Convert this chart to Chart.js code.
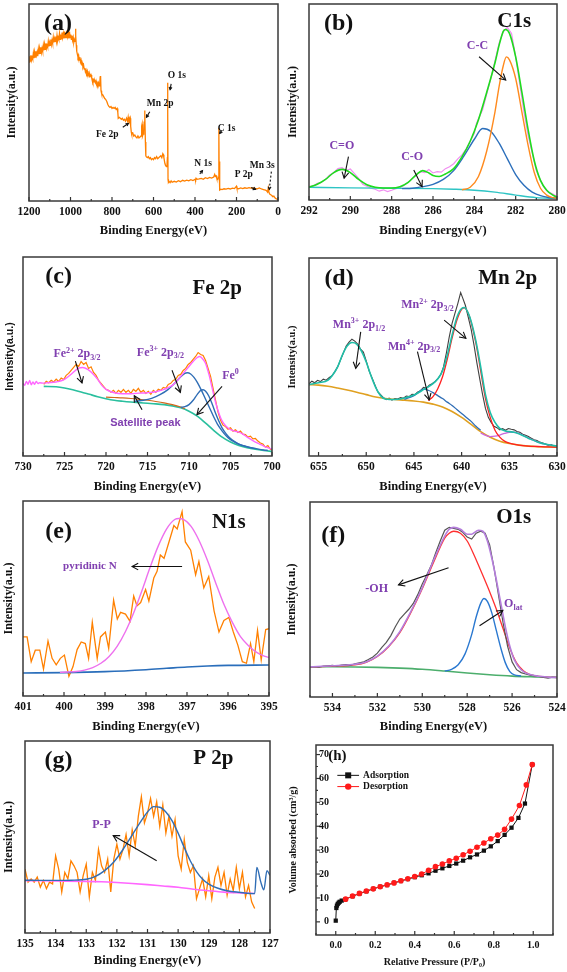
<!DOCTYPE html>
<html>
<head>
<meta charset="utf-8">
<script src="https://cdn.jsdelivr.net/npm/chart.js@4.4.1/dist/chart.umd.min.js"></script>
<style>
  html, body { margin: 0; padding: 0; background: #fff; }
  #fig { position: relative; width: 567px; height: 972px; overflow: hidden; background: #fff; }
  #fig canvas { position: absolute; }
</style>
</head>
<body>
<div id="fig"></div>
<script>
const SERIF = '"Liberation Serif", "Times New Roman", serif';
const SANS = '"Liberation Sans", Arial, sans-serif';
const PURPLE = '#8040b0';

// ---- tick labels ----
const ticksA = [1200, 1000, 800, 600, 400, 200, 0];
const ticksB = [292, 290, 288, 286, 284, 282, 280];
const ticksC = [730, 725, 720, 715, 710, 705, 700];
const ticksD = [655, 650, 645, 640, 635, 630];
const ticksE = [401, 400, 399, 398, 397, 396, 395];
const ticksF = [534, 532, 530, 528, 526, 524];
const ticksG = [135, 134, 133, 132, 131, 130, 129, 128, 127];
const ticksHx = [0, 0.2, 0.4, 0.6, 0.8, 1.0];
const ticksHy = [0, 10, 20, 30, 40, 50, 60, 70];

// ---- (a) survey, [eV, intensity %] ----
const surveyPts = [[1200,70.5],[1197,73.5],[1194,71],[1191,74],[1188,71.5],[1185,73],[1182,72],[1179,75],[1176,72.5],[1173,75.5],[1170,73],[1167,76],[1164,74],[1161,75.5],[1158,73.5],[1155,77],[1152,74.5],[1149,77.5],[1146,75],[1143,78],[1140,75.5],[1137,77.5],[1134,76],[1131,79],[1128,76.5],[1125,79.5],[1122,77],[1119,80],[1116,77.5],[1113,79],[1110,78],[1107,81],[1104,78.5],[1101,80.5],[1098,79],[1095,82],[1092,79.5],[1089,81.5],[1086,80],[1083,83],[1080,80.5],[1077,82.5],[1074,81],[1071,83.5],[1068,81],[1065,84],[1062,81.5],[1059,83],[1056,82],[1053,85],[1050,82],[1047,84.5],[1044,82.5],[1041,85.5],[1038,83],[1035,85],[1032,82.5],[1029,86],[1026,83],[1023,85.5],[1020,83],[1017,86.5],[1014,83.5],[1011,85],[1008,82.5],[1005,86],[1002,83],[999,84.5],[996,82],[993,84],[990,81.5],[987,83],[984,80.5],[981,82],[978,81],[976,85],[975,87.5],[974,84],[972,79],[970,76],[967,74.5],[964,73],[961,74],[958,71.5],[955,73],[952,70.5],[949,71.5],[946,69.5],[943,70],[940,68],[937,69],[934,67],[931,67.5],[928,65.5],[925,66.5],[922,65],[919,66],[916,64],[913,64.5],[910,63],[907,64.5],[904,63.5],[901,64],[898,62.5],[895,62],[892,60.5],[889,61.5],[886,60.5],[883,61],[880,60],[877,61],[874,59.5],[871,60],[868,59],[865,60],[862,58.5],[859,59.5],[857,63],[855,63.5],[853,56],[850,54.5],[845,54],[840,53],[835,52],[830,51.5],[825,50.5],[820,49],[815,48],[810,47.5],[805,48],[800,47],[795,47.5],[790,47],[785,47.5],[780,46.5],[775,47],[772,45],[770,42],[765,42.5],[760,42],[755,41.5],[750,42],[745,41],[740,41.5],[735,40.5],[730,42],[725,40.5],[722,42.5],[720,41],[717,42],[715,41],[712,42],[710,38],[707,35],[705,34],[700,34.5],[695,33],[690,33.5],[685,32.5],[680,32],[675,33],[670,32],[665,32.5],[660,33],[657,38],[655,39],[653,33],[650,34],[647,35],[645,40],[643,46],[641,44],[639,30],[637,23],[635,22.5],[630,22],[625,22.5],[620,21.5],[615,22],[610,21],[605,21.5],[600,21],[595,22],[590,21.5],[585,22.5],[580,21.5],[575,22],[570,22.5],[565,23],[560,22],[555,24],[552,23.5],[550,22],[545,19],[542,18],[538,17.5],[535,18],[533,22],[532,60],[531,45],[530,11],[528,9.5],[525,10],[520,9.3],[515,10.2],[510,9.5],[500,10],[490,9.6],[480,10.3],[470,9.8],[460,10.5],[450,10.1],[440,10.6],[430,10.2],[420,10.8],[410,10.4],[400,11],[397,10.6],[395,11.5],[390,11],[380,11.2],[370,11.5],[360,11],[350,11.8],[340,11.4],[330,12],[320,11.6],[310,12.2],[305,13.5],[302,12.5],[298,12.8],[295,11.5],[290,11],[287,12],[285,37],[284,20],[282,7],[280,5.6],[275,6],[270,5.8],[260,6.2],[250,6],[240,6.4],[230,6.1],[220,6.5],[210,6.3],[200,7.5],[198,6.5],[190,6.2],[180,6.6],[170,6.3],[160,6.7],[150,6.4],[140,6.8],[130,6.5],[120,6.7],[110,6.4],[100,6.2],[90,6.6],[80,6.1],[70,5.8],[60,5.5],[55,5.2],[50,4.5],[47,6.5],[45,5],[40,3.5],[35,3.2],[30,2.8],[25,2.2],[20,2.5],[15,1.6],[10,1.2],[5,1.0],[0,0.8]];

// ---- (b) C1s ----
const c1sRaw = [[292,6.8],[291.8,7.2],[291.6,8.5],[291.4,9],[291.2,10.5],[291,12.8],[290.8,14],[290.6,16],[290.4,16.5],[290.2,15],[290,15.8],[289.8,13.5],[289.6,11],[289.4,8],[289.2,7],[289,6],[288.8,5.5],[288.6,4.5],[288.4,5.2],[288.2,4.3],[288,5],[287.8,5.8],[287.6,6.2],[287.4,7.5],[287.2,9],[287,11],[286.8,13],[286.6,14.5],[286.4,14],[286.2,15.5],[286,13.8],[285.8,14.5],[285.6,14.2],[285.4,16],[285.2,17],[285,18.5],[284.8,21],[284.6,23],[284.4,26],[284.2,30],[284,34],[283.9,39],[283.8,41.5],[283.6,46],[283.4,54],[283.2,62],[283,71],[282.8,80],[282.6,86],[282.4,88],[282.2,85],[282,73],[281.8,59],[281.6,45],[281.4,33],[281.2,24],[281,15],[280.8,10],[280.6,6],[280.4,4],[280.2,3],[280,1.8]];
const c1sEnv = [[292,6.6],[291.6,8],[291.2,10.5],[290.8,14],[290.4,15.6],[290,14],[289.6,10.5],[289.2,7.8],[288.8,6.5],[288.4,6.1],[288,6.1],[287.6,6.8],[287.2,9],[286.8,13],[286.5,15],[286.2,13.8],[286,12.5],[285.7,12],[285.4,13.3],[285,16],[284.6,22],[284.2,30],[283.8,41],[283.4,55],[283,70],[282.8,79],[282.6,86],[282.5,87],[282.3,85],[282,73],[281.7,55],[281.4,36],[281.1,20],[280.8,10],[280.5,5],[280.2,2.5],[280,1.5]];
const c1sBlue = [[287.5,5.8],[287,6],[286.5,6.8],[286,8],[285.5,10.5],[285,15],[284.5,22.5],[284,31],[283.6,36.5],[283.2,35],[282.8,29],[282.4,21],[282,13],[281.6,7.5],[281.2,4],[280.8,2.2],[280.4,1.3],[280,1]];
const c1sOrange = [[284.6,5.2],[284.2,6.5],[283.8,12],[283.4,25],[283,45],[282.8,58],[282.6,68.5],[282.45,73],[282.3,71.5],[282,62],[281.7,45],[281.4,28],[281.1,14],[280.8,6],[280.5,2.5],[280.2,1.2],[280,1]];
const c1sBg = [[292,6.5],[290,6.2],[288,6],[286,5.8],[285,5.5],[284,5],[283,4],[282,2.5],[281,1.2],[280,0.8]];

// ---- (c) Fe 2p ----
const fe2pRaw = [[727.5,36],[727.2,37.5],[726.9,36.8],[726.6,38],[726.3,37.2],[726,38.6],[725.7,37.5],[725.4,39.2],[725.1,38.4],[724.8,40.5],[724.5,41.5],[724.2,43],[723.9,44.5],[723.6,46],[723.3,45],[723,47.5],[722.7,46],[722.4,47],[722.1,44],[721.8,44.8],[721.5,42],[721.2,40.5],[720.9,38],[720.6,36.5],[720.3,35],[720,33.5],[719.7,33],[719.4,32],[719.1,33],[718.8,31.5],[718.5,33],[718.2,32],[717.9,33.5],[717.6,32],[717.3,33],[717,31.5],[716.7,33.5],[716.4,32.5],[716.1,34],[715.8,32],[715.5,33],[715.2,31.5],[714.9,32.5],[714.6,31],[714.3,33],[714,32],[713.7,33.5],[713.4,33],[713.1,34.5],[712.8,34],[712.5,36],[712.2,36.5],[711.9,38],[711.6,38.5],[711.3,40.5],[711,41],[710.7,43],[710.4,44],[710.1,46],[709.8,47],[709.5,48.5],[709.2,50],[708.9,52],[708.6,51],[708.3,50.5],[708,48],[707.7,44],[707.4,40],[707.1,34],[706.8,28],[706.5,22],[706.2,18],[705.9,15.5],[705.6,14.8],[705.3,13.5],[705,14.2],[704.7,12.5],[704.4,13.2],[704.1,11.8],[703.8,12.5],[703.5,11],[703.2,10.8],[702.9,9.5],[702.6,10],[702.3,8.6],[702,8.8],[701.7,7.5],[701.4,6.5],[701.1,6],[700.8,4.5],[700.5,5.2],[700.2,3.4],[700,3]];
const fe2pEnv = [[730,36.5],[729.8,35.5],[729.6,37.5],[729.4,36],[729.2,38],[729,35.8],[728.8,37.2],[728.6,36],[728.4,37.5],[728.2,36.4],[728,36.8],[727.5,36.6],[727,36.8],[726,37.2],[725,38.5],[724,41.8],[723.3,44.2],[722.8,44.5],[722.2,43.5],[721.5,41],[721,38.5],[720.5,35.5],[720,33.5],[719,31.8],[718,31.3],[717,31.3],[716,31.6],[715,31.8],[714,32.3],[713,33.5],[712,35.5],[711.5,37.5],[711,40],[710.5,42.5],[710,45],[709.5,47.5],[709,49.5],[708.7,50],[708.3,48.5],[708,46.5],[707.6,41],[707.2,34],[706.8,27],[706.4,21.5],[706,17.5],[705.5,14.8],[705,13.2],[704.5,12.5],[704,12],[703.5,11],[703,9.5],[702.5,8.2],[702,7],[701.5,6],[701,5],[700.5,4.2],[700,3.5]];
const fe2pBg = [[727.5,35],[726,34.8],[725,34.2],[724,33.3],[723,32.2],[722,31],[721,29.8],[720,28.8],[719,28],[718,27.5],[717,27.1],[716,26.8],[715,26.5],[714,26.2],[713,25.8],[712,25.2],[711,24.2],[710,22.5],[709,20],[708,16.5],[707,12.8],[706,9.5],[705,7],[704,5.3],[703,4.2],[702,3.4],[701,2.8],[700,2.3]];
const fe2pSat = [[720,29.6],[719,29.4],[718,29.2],[717,28.9],[716,28.5],[715,28],[714,27.4],[713,26.7],[712,25.8],[711,24.6],[710.5,23.8]];
const fe3Blue = [[716.5,27.5],[715.5,28],[714.5,29],[713.5,30.8],[712.5,33.5],[711.5,37.5],[711,39.8],[710.5,41.5],[710.2,41.8],[709.8,41.2],[709.4,39.5],[709,37],[708.5,33],[708,28.5],[707.5,24],[707,19.5],[706.5,15.5],[706,12.5],[705.5,10],[705,8.2],[704.5,7],[704,6],[703,4.7],[702,3.8],[701,3],[700.5,2.8]];
const fe0Blue = [[711,24.5],[710.5,24.8],[710,25.8],[709.5,28],[709,31],[708.6,33],[708.3,33.3],[708,32.5],[707.6,30],[707.2,26],[706.8,21.5],[706.4,17.5],[706,14],[705.5,11],[705,8.8],[704.5,7.2],[704,6],[703.5,5.2],[703,4.6],[702,3.7]];

// ---- (d) Mn 2p ----
const mn2pRaw = [[656,36.5],[655.7,37.8],[655.4,37],[655.1,38.2],[654.8,37.6],[654.5,38.8],[654.2,38.3],[653.9,39.5],[653.6,40.5],[653.3,42.5],[653,45],[652.7,48.5],[652.4,52],[652.1,55.5],[651.8,57.5],[651.5,59],[651.2,58],[650.9,56.5],[650.6,54],[650.3,52.5],[650,48],[649.7,43],[649.4,39.5],[649.1,36],[648.8,32.5],[648.5,31],[648.2,29.5],[647.9,28.5],[647.6,29.2],[647.3,28.2],[647,29],[646.7,28.8],[646.4,29.5],[646.1,29.2],[645.8,30.3],[645.5,30],[645.2,31.2],[644.9,31],[644.6,32.4],[644.3,33],[644,34.6],[643.7,34.2],[643.4,35.8],[643.1,36.5],[642.8,37.5],[642.5,39],[642.2,41],[641.9,45],[641.6,52],[641.3,60],[641,67],[640.7,72],[640.4,77],[640.1,82.5],[639.9,80],[639.6,76],[639.3,70],[639,64],[638.7,56],[638.4,47],[638.1,39],[637.8,31],[637.5,24],[637.2,19.5],[636.9,17],[636.6,15],[636.3,14.3],[636,13.2],[635.7,13.8],[635.4,13],[635.1,13.9],[634.8,13.5],[634.5,13.2],[634.2,12.4],[633.9,12],[633.6,11],[633.3,10.5],[633,9.8],[632.7,9],[632.4,8.2],[632.1,7.8],[631.8,7],[631.5,6.6],[631.2,6],[630.9,5.4],[630.6,5.8],[630.3,4.8],[630,5.2]];
const mn2pEnv = [[656,36],[655,37],[654,38.3],[653.5,41],[653,45],[652.5,51],[652,55.5],[651.5,57.3],[651,56.5],[650.5,53],[650,47.5],[649.5,40.5],[649,34.5],[648.5,30.5],[648,28.8],[647,28.5],[646,29.3],[645,30.8],[644,33.5],[643,36.5],[642.5,39],[642,43],[641.5,51],[641,61],[640.5,70],[640,74.5],[639.7,75],[639.3,72],[639,68],[638.5,58],[638,45],[637.5,31],[637,22],[636.5,17],[636,14],[635.5,12.8],[635,12.3],[634.5,12],[634,11.2],[633,9],[632,7],[631,5.8],[630,5]];
const mn2pBg = [[656,36],[655,35.8],[654,35.2],[653,34.3],[652,33.3],[651,32.2],[650,31],[649,29.8],[648,29],[647,28.5],[646,28.2],[645,27.8],[644,27.2],[643,26.2],[642,24.8],[641,22.5],[640,19.5],[639,16],[638,12.3],[637,9.5],[636,7.5],[635,6.3],[634,5.5],[633,5],[632,4.7],[630,4.5]];
const mn4Blue = [[646,28.6],[645,30.5],[644.3,33],[644,33.8],[643.5,33.2],[643,32],[642.5,30.5],[642,29],[641.5,27.2],[641,25.5],[640.5,23.5],[640,21.5],[639.5,19.5],[639,17.5],[638.5,15],[638,13]];
const mn2Red = [[643.5,28],[643,30],[642.5,34],[642,40],[641.5,49],[641,59.5],[640.5,68.5],[640,74],[639.7,74.8],[639.3,72],[639,67.5],[638.5,57],[638,43],[637.5,29],[637,19.5],[636.5,13],[636,9.5],[635.5,7.5],[635,6.5],[634,5.5],[633,5],[632,4.8],[631,4.6],[630,4.5]];
const mnSatViolet = [[638,11.5],[637,9.8],[636.5,10],[636,10.6],[635.5,11.4],[635,12],[634.5,12],[634,11.4],[633.5,10.3],[633,9],[632.5,8],[632,7],[631,5.7],[630,5]];

// ---- (e) N1s ----
const n1sRaw = [[401,30.3],[400.9,30.3],[400.8,17.6],[400.7,23.5],[400.59,23.5],[400.5,13.8],[400.39,28.2],[400.29,19.3],[400.19,16],[400.09,19.3],[399.99,21],[399.88,10.1],[399.78,15.1],[399.68,23.8],[399.58,27.7],[399.48,26.9],[399.4,19.3],[399.31,37.8],[399.19,19.3],[399.11,30.3],[398.99,32.8],[398.91,24.4],[398.79,49.1],[398.7,39.5],[398.62,42.9],[398.5,42],[398.39,38.3],[398.3,51.3],[398.22,46.2],[398.13,47.9],[398.01,54.6],[397.93,48.7],[397.81,60.5],[397.73,63.9],[397.65,72.3],[397.56,70.6],[397.44,79],[397.32,87.4],[397.24,85.7],[397.12,94.6],[397.04,79],[396.91,74.8],[396.79,62.2],[396.71,68.9],[396.59,55.5],[396.47,61.3],[396.34,43.7],[396.22,32.8],[396.1,38.7],[395.98,40.3],[395.87,32.8],[395.76,26.1],[395.65,17.6],[395.55,16.8],[395.45,26.9],[395.37,17.6],[395.28,33.6],[395.19,18.5],[395.08,34.1],[395,34.5]];
const n1sFit = [[400.1,12.1],[399.9,12.3],[399.7,12.6],[399.5,13.3],[399.3,14.6],[399.1,16.8],[398.9,20.3],[398.7,25.6],[398.5,33.1],[398.3,42.7],[398.1,54],[397.9,66],[397.7,77],[397.5,85.6],[397.3,90.5],[397.2,91],[397.1,90.7],[396.9,87],[396.7,79.5],[396.5,69.5],[396.3,58],[396.1,47],[395.9,38],[395.7,30.6],[395.5,25.8],[395.3,22.4],[395.1,20.3],[395,19.8]];
const n1sBg = [[401,11.8],[400,12],[399,12.5],[398,13.5],[397.5,14.2],[397,14.9],[396.5,15.4],[396,15.7],[395,15.9]];

// ---- (f) O1s ----
const o1sRaw = [[535,15.4],[534.8,15.6],[534.6,15.3],[534.4,15.8],[534.2,16],[534,16.2],[533.8,15.9],[533.6,16.4],[533.4,16.6],[533.2,16.3],[533,17],[532.8,17.5],[532.6,18],[532.4,19.2],[532.2,20.5],[532,22.5],[531.8,25.5],[531.6,28],[531.4,31.5],[531.2,36],[531,40],[530.8,42.5],[530.6,45],[530.4,48],[530.2,52.5],[530,58],[529.8,62.5],[529.6,67.5],[529.4,74],[529.2,80],[529,85.5],[528.8,87],[528.6,86.5],[528.4,86],[528.2,84.5],[528,82],[527.8,81],[527.6,84],[527.4,85],[527.2,84],[527,78],[526.8,66],[526.6,52],[526.4,38],[526.2,26],[526,18],[525.8,14],[525.6,12.5],[525.4,11.8],[525.2,11.2],[525,11],[524.8,10.5],[524.6,10],[524.4,9.7],[524.2,10.2],[524,10.1]];
const o1sEnv = [[535,15.5],[534,16],[533,16.8],[532.5,18],[532,21],[531.5,26],[531,33.5],[530.5,44],[530,56],[529.5,70],[529,82.5],[528.8,86],[528.6,87],[528.3,86],[528,83.5],[527.8,83.5],[527.5,85.5],[527.3,85],[527.1,80],[526.9,71],[526.7,60],[526.5,48],[526.3,36],[526.1,26],[525.9,19],[525.6,14],[525.2,11.5],[524.8,10.6],[524.4,10.2],[524,10]];
const ohRed = [[535,15.4],[534,15.8],[533,16.5],[532.5,17.8],[532,20.8],[531.5,25.8],[531,33],[530.5,43.5],[530,55.5],[529.5,69],[529,81.5],[528.8,84],[528.6,85],[528.3,84],[528,80],[527.7,73],[527.4,65],[527,54],[526.7,45],[526.4,35],[526.1,25],[525.8,17.5],[525.5,13.5],[525.2,11.5],[524.8,10.6],[524.4,10.2],[524,10]];
const olatBlue = [[529,13.3],[528.7,14.2],[528.4,16.5],[528.1,22],[527.8,32],[527.6,41],[527.4,48],[527.25,50.5],[527.1,49],[526.9,43],[526.7,34],[526.5,25],[526.3,17.5],[526.1,13],[525.9,11.3],[525.6,10.8]];
const o1sBg = [[535,15.5],[534,15.5],[533,15.4],[532,15.2],[531,14.8],[530,14.2],[529,13.3],[528,12.3],[527,11.4],[526,10.7],[525,10.3],[524,10]];

// ---- (g) P 2p ----
const p2pRaw = [[135,33.3],[134.9,26.5],[134.8,28.2],[134.7,26.5],[134.6,29.1],[134.5,23.9],[134.4,27.4],[134.3,23.1],[134.2,26.5],[134.1,25.6],[134,40.2],[133.9,33.3],[133.8,21.4],[133.7,31.6],[133.6,28.2],[133.5,37.6],[133.4,35],[133.3,31.6],[133.2,21.4],[133.1,29.9],[133,35.9],[132.9,18.8],[132.8,31.6],[132.7,27.4],[132.6,43.6],[132.5,35],[132.4,31.6],[132.3,38.5],[132.2,21.4],[132.1,38.5],[132,46.2],[131.9,38.5],[131.8,43.6],[131.7,51.3],[131.6,40.2],[131.5,53.8],[131.4,45.3],[131.3,60.7],[131.2,70.9],[131.1,57.3],[131,62.4],[130.9,70.1],[130.8,60.7],[130.7,68.4],[130.6,55.6],[130.5,66.7],[130.4,52.1],[130.3,60.7],[130.2,50.4],[130.1,59],[130,40.2],[129.9,33.3],[129.8,48.7],[129.7,36.8],[129.6,31.6],[129.5,35],[129.4,17.9],[129.3,23.1],[129.2,28.2],[129.1,18.8],[129,29.9],[128.9,17.9],[128.8,29.1],[128.7,34.2],[128.6,24.8],[128.5,31.6],[128.4,19.7],[128.3,28.2],[128.2,22.2],[128.1,34.2],[128,23.1],[127.9,31.6],[127.8,18.8],[127.7,24.8],[127.6,16.2],[127.5,12.8]];
const ppBlue = [[135,27.5],[134.5,27.4],[134,27.4],[133.5,27.5],[133,28],[132.7,29.5],[132.4,32.5],[132.1,37],[131.8,43.5],[131.5,51],[131.2,58.5],[131,63],[130.8,65.8],[130.6,65.5],[130.4,63],[130.2,58.5],[130,52],[129.8,44.5],[129.6,37.5],[129.4,32],[129.2,28],[129,25.5],[128.7,23.3],[128.4,22],[128,21.2],[127.5,20.5],[127.43,34.2],[127.3,26.5],[127.2,22.5],[127.1,32.5],[127,30]];
const p2pBg = [[135,27.3],[134,27.1],[133,26.9],[132.5,26.7],[132,26.3],[131.5,25.8],[131,25.2],[130.5,24.5],[130,23.8],[129.5,22.8],[129,22],[128.5,21.3],[128,20.9],[127.5,20.6]];

// ---- (h) N2 isotherm ----
const adsP = [0.0, 0.003, 0.006, 0.01, 0.015, 0.02, 0.03, 0.05, 0.085, 0.12, 0.155, 0.19, 0.225, 0.26, 0.295, 0.33, 0.365, 0.4, 0.435, 0.47, 0.505, 0.54, 0.575, 0.61, 0.645, 0.68, 0.715, 0.75, 0.785, 0.82, 0.855, 0.89, 0.925, 0.958, 0.995];
const adsV = [0.5, 5.8, 6.8, 7.5, 8.0, 8.4, 8.9, 9.5, 10.7, 11.8, 12.8, 13.8, 14.7, 15.4, 16.3, 17.1, 17.9, 18.7, 19.5, 20.3, 21.4, 22.4, 23.4, 24.4, 25.6, 27.0, 28.2, 29.8, 31.6, 33.8, 36.4, 39.4, 43.5, 49.5, 65.8];
const desP = [0.995, 0.965, 0.93, 0.89, 0.855, 0.82, 0.785, 0.75, 0.715, 0.68, 0.645, 0.61, 0.575, 0.54, 0.505, 0.47, 0.435, 0.4, 0.365, 0.33, 0.295, 0.26, 0.225, 0.19, 0.155, 0.12, 0.085, 0.05];
const desV = [65.8, 57.3, 48.7, 43.0, 38.7, 36.3, 34.8, 33.0, 31.2, 29.5, 28.1, 26.6, 25.5, 24.2, 23.1, 21.6, 20.0, 19.0, 18.0, 17.2, 16.3, 15.5, 14.7, 13.8, 12.9, 11.9, 10.8, 9.5];

// ---------- helpers ----------
const pairs = arr => arr.map(p => ({ x: p[0], y: p[1] }));
const zip = (xs, ys) => xs.map((x, i) => ({ x: x, y: ys[i] }));

function curve(data, color, width, order, smooth) {
    return {
        data: pairs(data), borderColor: color, backgroundColor: color,
        borderWidth: width, pointRadius: 0, fill: false, order: order,
        tension: smooth ? 0.4 : 0, cubicInterpolationMode: smooth ? 'monotone' : 'default'
    };
}

function drawRich(ctx, x, y, text, size, color, family) {
    const parts = [];
    const re = /\^\{([^}]*)\}|_\{([^}]*)\}|([^\^_]+)/g;
    let m;
    while ((m = re.exec(text))) {
        if (m[1] !== undefined) parts.push({ s: m[1], k: 'sup' });
        else if (m[2] !== undefined) parts.push({ s: m[2], k: 'sub' });
        else parts.push({ s: m[3], k: '' });
    }
    const small = Math.round(size * 0.7);
    let total = 0;
    parts.forEach(p => {
        ctx.font = 'bold ' + (p.k ? small : size) + 'px ' + family;
        p.w = ctx.measureText(p.s).width;
        total += p.w;
    });
    let cx = x - total / 2;
    ctx.fillStyle = color;
    ctx.textBaseline = 'middle';
    ctx.textAlign = 'left';
    parts.forEach(p => {
        ctx.font = 'bold ' + (p.k ? small : size) + 'px ' + family;
        const dy = p.k === 'sup' ? -size * 0.32 : (p.k === 'sub' ? size * 0.3 : 0);
        ctx.fillText(p.s, cx, y + dy);
        cx += p.w;
    });
}

function drawArrow(ctx, x1, y1, x2, y2, head, dash) {
    ctx.strokeStyle = '#111';
    ctx.lineWidth = 1.1;
    ctx.setLineDash(dash ? [2, 2] : []);
    ctx.beginPath(); ctx.moveTo(x1, y1); ctx.lineTo(x2, y2); ctx.stroke();
    ctx.setLineDash([]);
    const ang = Math.atan2(y2 - y1, x2 - x1);
    ctx.beginPath();
    ctx.moveTo(x2 - head * Math.cos(ang - 0.5), y2 - head * Math.sin(ang - 0.5));
    ctx.lineTo(x2, y2);
    ctx.lineTo(x2 - head * Math.cos(ang + 0.5), y2 - head * Math.sin(ang + 0.5));
    ctx.stroke();
}

// frame, inward ticks, labels and arrows
function makeDecor(spec) {
    return {
        id: 'decor',
        afterDatasetsDraw(chart) {
            const ctx = chart.ctx, a = chart.chartArea;
            const xs = chart.scales.x, ys = chart.scales.y;
            const px = v => xs.getPixelForValue(v), py = v => ys.getPixelForValue(v);
            ctx.save();
            ctx.strokeStyle = '#333';
            ctx.lineWidth = 1.2;
            // x ticks (major + minor)
            const tv = xs.ticks.map(t => t.value);
            const step = Math.abs(tv[1] - tv[0]);
            const lo = Math.min(xs.min, xs.max), hi = Math.max(xs.min, xs.max);
            const t0 = Math.min.apply(null, tv);
            for (let k = -2; k <= 2 * tv.length + 2; k++) {
                const v = t0 + k * step / 2;
                if (v < lo - 1e-9 || v > hi + 1e-9) continue;
                const len = k % 2 === 0 ? 4 : 2;
                ctx.beginPath(); ctx.moveTo(px(v), a.bottom); ctx.lineTo(px(v), a.bottom - len); ctx.stroke();
            }
            if (spec.yTicks) {
                const yv = ys.ticks.map(t => t.value);
                const ystep = Math.abs(yv[1] - yv[0]);
                for (let k = 0; k <= 2 * yv.length; k++) {
                    const v = yv[0] + k * ystep / 2;
                    if (v > ys.max) continue;
                    const len = k % 2 === 0 ? 4 : 2;
                    ctx.beginPath(); ctx.moveTo(a.left, py(v)); ctx.lineTo(a.left + len, py(v)); ctx.stroke();
                }
                // y labels sit just inside the frame, right aligned
                ctx.font = 'bold 10px ' + SERIF;
                ctx.fillStyle = '#111'; ctx.textAlign = 'right'; ctx.textBaseline = 'middle';
                yv.forEach(v => ctx.fillText(String(v), a.left + 13, py(v)));
            }
            ctx.strokeStyle = '#3a3a3a';
            ctx.lineWidth = 1.5;
            ctx.strokeRect(a.left, a.top, a.right - a.left, a.bottom - a.top);

            (spec.arrows || []).forEach(r => drawArrow(ctx, px(r[0]), py(r[1]), px(r[2]), py(r[3]), r[4] || 7, r[5]));
            (spec.notes || []).forEach(n => drawRich(ctx, px(n.x), py(n.y), n.t, n.size || 12, n.color || '#111', n.font || SERIF));

            (spec.legend || []).forEach(e => {
                const x1 = px(e.x1), x2 = px(e.x2), y = py(e.y);
                ctx.strokeStyle = e.color; ctx.lineWidth = 1;
                ctx.beginPath(); ctx.moveTo(x1, y); ctx.lineTo(x2, y); ctx.stroke();
                ctx.fillStyle = e.color;
                const mx = (x1 + x2) / 2;
                if (e.shape === 'rect') ctx.fillRect(mx - 3, y - 3, 6, 6);
                else { ctx.beginPath(); ctx.arc(mx, y, 3.2, 0, Math.PI * 2); ctx.fill(); }
                ctx.font = 'bold 9.5px ' + SERIF;
                ctx.fillStyle = '#111'; ctx.textAlign = 'left'; ctx.textBaseline = 'middle';
                ctx.fillText(e.label, x2 + 4, y);
            });
            ctx.restore();
        }
    };
}

const fig = document.getElementById('fig');

// g: canvas box L,T,W,H; plot area x1,y1,x2,y2; y-title centre x (ytc) and x-title centre y (xtc)
function makePanel(g, datasets, sc, spec) {
    const cv = document.createElement('canvas');
    cv.width = g.W; cv.height = g.H;
    cv.style.left = g.L + 'px'; cv.style.top = g.T + 'px';
    cv.style.width = g.W + 'px'; cv.style.height = g.H + 'px';
    fig.appendChild(cv);

    const xtSize = sc.xtSize || 12.5, ytSize = sc.ytSize || 12;
    const xPad = (g.T + g.H - g.xtc) - xtSize * 0.6;
    const yPad = (g.ytc - g.L) - ytSize * 0.6;
    const xh = g.T + g.H - g.y2, yw = g.x1 - g.L;

    new Chart(cv, {
        type: 'line',
        data: { datasets: datasets },
        options: {
            responsive: false, animation: false, devicePixelRatio: 1,
            layout: { padding: { left: 0, top: g.y1 - g.T, right: g.L + g.W - g.x2, bottom: 0 } },
            plugins: { legend: { display: false }, tooltip: { enabled: false } },
            scales: {
                x: {
                    type: 'linear', reverse: !!sc.reverse, min: sc.xmin, max: sc.xmax,
                    afterBuildTicks: s => { s.ticks = sc.xticks.map(v => ({ value: v })); },
                    ticks: { font: { family: SERIF, weight: 'bold', size: sc.tickSize || 11.5 }, color: '#111',
                             padding: 4, maxRotation: 0, minRotation: 0, autoSkip: false,
                             callback: sc.xfmt || (v => String(v)) },
                    grid: { display: false, drawTicks: false },
                    border: { display: false },
                    title: { display: true, text: sc.xtitle || 'Binding Energy(eV)', color: '#111',
                             font: { family: SERIF, weight: 'bold', size: xtSize }, padding: { top: 0, bottom: xPad } },
                    afterFit: s => { s.height = xh; s.paddingLeft = 0; s.paddingRight = 0; }
                },
                y: {
                    type: 'linear', min: sc.ymin, max: sc.ymax,
                    afterBuildTicks: sc.yticks ? (s => { s.ticks = sc.yticks.map(v => ({ value: v })); }) : undefined,
                    ticks: { display: false },
                    grid: { display: false, drawTicks: false },
                    border: { display: false },
                    title: { display: true, text: sc.ytitle || 'Intensity(a.u.)', color: '#111',
                             font: { family: sc.yfont || SERIF, weight: 'bold', size: ytSize }, padding: { top: yPad, bottom: 0 } },
                    afterFit: s => { s.width = yw; s.paddingTop = 0; s.paddingBottom = 0; }
                }
            }
        },
        plugins: [makeDecor(spec)]
    });
}

// ---------- panels ----------
makePanel({ L: 0, T: 0, W: 283, H: 243, x1: 29, y1: 4, x2: 278, y2: 201, ytc: 12, xtc: 231 },
    [curve(surveyPts, '#ff8000', 1.3, 0, false)],
    { reverse: true, xmin: 0, xmax: 1200, xticks: ticksA, ymin: 0, ymax: 100 },
    {
        notes: [
            { t: '(a)', x: 1060, y: 90, size: 24 },
            { t: 'O 1s', x: 487, y: 63.5, size: 9.5 },
            { t: 'Mn 2p', x: 568, y: 49.6, size: 9.5 },
            { t: 'Fe 2p', x: 823, y: 33.8, size: 9.5 },
            { t: 'C 1s', x: 248, y: 36.9, size: 9.5 },
            { t: 'N 1s', x: 361, y: 18.8, size: 9.5 },
            { t: 'P 2p', x: 165, y: 13.2, size: 9.5 },
            { t: 'Mn 3s', x: 76, y: 17.9, size: 9.5 }
        ],
        arrows: [
            [515, 59.5, 520, 56.5, 3], [618, 45.3, 634, 42.5, 3], [748, 37.4, 721, 39.4, 3],
            [271, 35.7, 281, 34.3, 3], [377, 13.7, 364, 15.4, 3], [129, 6.9, 108, 5.9, 3],
            [32, 14.9, 42, 5.9, 3, true]
        ]
    });

makePanel({ L: 283, T: 0, W: 284, H: 243, x1: 309, y1: 4, x2: 557, y2: 200, ytc: 293, xtc: 231 },
    [
        curve(c1sEnv, '#1edc1e', 1.6, 0, true),
        curve(c1sOrange, '#ff8a1e', 1.4, 1, true),
        curve(c1sBlue, '#2c6fbb', 1.4, 2, true),
        curve(c1sBg, '#2ec4c4', 1.4, 3, true),
        curve(c1sRaw, '#f08ef0', 1.2, 4, false)
    ],
    { reverse: true, xmin: 280, xmax: 292, xticks: ticksB, ymin: 0, ymax: 100 },
    {
        notes: [
            { t: '(b)', x: 290.57, y: 90, size: 24 },
            { t: 'C1s', x: 282.07, y: 91, size: 21 },
            { t: 'C-C', x: 283.85, y: 78.6, size: 12, color: PURPLE },
            { t: 'C=O', x: 290.41, y: 27.6, size: 12, color: PURPLE },
            { t: 'C-O', x: 287.01, y: 22.1, size: 12, color: PURPLE }
        ],
        arrows: [[283.77, 73.1, 282.48, 61.2], [290.09, 22.1, 290.3, 11.1], [286.93, 15.3, 286.53, 6.8]]
    });

makePanel({ L: 0, T: 243, W: 283, H: 252, x1: 23, y1: 257, x2: 272, y2: 456, ytc: 10, xtc: 487 },
    [
        curve(fe2pEnv, '#ff66ff', 1.4, 0, true),
        curve(fe0Blue, '#2f6db5', 1.4, 1, true),
        curve(fe3Blue, '#2f6db5', 1.4, 2, true),
        curve(fe2pSat, '#d2691e', 1.2, 3, true),
        curve(fe2pBg, '#2abf9e', 1.6, 4, true),
        curve(fe2pRaw, '#ff8000', 1.2, 5, false)
    ],
    { reverse: true, xmin: 700, xmax: 730, xticks: ticksC, ymin: 0, ymax: 100, yfont: SANS, ytSize: 10.5 },
    {
        notes: [
            { t: '(c)', x: 725.7, y: 90, size: 24 },
            { t: 'Fe 2p', x: 706.6, y: 84, size: 21 },
            { t: 'Fe^{2+} 2p_{3/2}', x: 723.5, y: 51.1, size: 12, color: PURPLE },
            { t: 'Fe^{3+} 2p_{3/2}', x: 713.45, y: 51.9, size: 12, color: PURPLE },
            { t: 'Fe^{0}', x: 705, y: 40.1, size: 12, color: PURPLE },
            { t: 'Satellite peak', x: 715.26, y: 16.4, size: 11, color: PURPLE, font: SANS }
        ],
        arrows: [[723.69, 47.7, 722.89, 36.7], [712.05, 43.1, 711.04, 32], [706.02, 35, 709.04, 20.8], [715.66, 23.2, 716.59, 30.3]]
    });

makePanel({ L: 283, T: 243, W: 284, H: 252, x1: 309, y1: 258, x2: 557, y2: 456, ytc: 292, xtc: 487 },
    [
        curve(mn2pEnv, '#1fbfa8', 1.6, 0, true),
        curve(mn2Red, '#ff2020', 1.3, 1, true),
        curve(mn4Blue, '#2f6db5', 1.3, 2, true),
        curve(mnSatViolet, '#cc66dd', 1.3, 3, true),
        curve(mn2pBg, '#e0a020', 1.6, 4, true),
        curve(mn2pRaw, '#404040', 1.1, 5, false)
    ],
    { reverse: true, xmin: 630, xmax: 656, xticks: ticksD, ymin: 0, ymax: 100, ytSize: 10.5 },
    {
        notes: [
            { t: '(d)', x: 652.85, y: 89.5, size: 24 },
            { t: 'Mn 2p', x: 635.18, y: 89.5, size: 21 },
            { t: 'Mn^{3+} 2p_{1/2}', x: 650.75, y: 66.1, size: 12, color: PURPLE },
            { t: 'Mn^{4+} 2p_{3/2}', x: 644.98, y: 55.2, size: 12, color: PURPLE },
            { t: 'Mn^{2+} 2p_{3/2}', x: 643.58, y: 76.1, size: 12, color: PURPLE }
        ],
        arrows: [[650.58, 62.7, 651.1, 44.3], [644.63, 52.7, 643.4, 28.4], [641.83, 68.6, 639.55, 59.4]]
    });

makePanel({ L: 0, T: 495, W: 283, H: 242, x1: 23, y1: 501, x2: 269, y2: 696, ytc: 9, xtc: 727 },
    [
        curve(n1sFit, '#ee70ee', 1.4, 0, true),
        curve(n1sBg, '#2a6ebb', 1.6, 1, true),
        curve(n1sRaw, '#ff8000', 1.3, 2, false)
    ],
    { reverse: true, xmin: 395, xmax: 401, xticks: ticksE, ymin: 0, ymax: 100 },
    {
        notes: [
            { t: '(e)', x: 400.13, y: 84, size: 24 },
            { t: 'N1s', x: 395.98, y: 89.1, size: 21 },
            { t: 'pyridinic N', x: 399.37, y: 66.4, size: 11, color: PURPLE }
        ],
        arrows: [[397.12, 66.4, 398.34, 66.4]]
    });

makePanel({ L: 283, T: 495, W: 284, H: 242, x1: 310, y1: 502, x2: 557, y2: 697, ytc: 292, xtc: 727 },
    [
        curve(o1sEnv, '#b57edc', 1.6, 0, true),
        curve(olatBlue, '#2a78d0', 1.4, 1, true),
        curve(o1sRaw, '#555555', 1.2, 2, false),
        curve(ohRed, '#ff3030', 1.3, 3, true),
        curve(o1sBg, '#4cae6c', 1.6, 4, true)
    ],
    { reverse: true, xmin: 524, xmax: 535, xticks: ticksF, ymin: 0, ymax: 100 },
    {
        notes: [
            { t: '(f)', x: 533.96, y: 82.9, size: 24 },
            { t: 'O1s', x: 525.93, y: 92, size: 21 },
            { t: '-OH', x: 532.03, y: 55.6, size: 12, color: PURPLE },
            { t: 'O_{lat}', x: 525.95, y: 47.5, size: 12, color: PURPLE }
        ],
        arrows: [[528.83, 66.3, 531.06, 57.5], [527.45, 36.5, 526.41, 44.4]]
    });

makePanel({ L: 0, T: 737, W: 283, H: 235, x1: 25, y1: 741, x2: 270, y2: 933, ytc: 9, xtc: 961 },
    [
        curve(ppBlue, '#2f6db5', 1.4, 0, true),
        curve(p2pBg, '#ff66ff', 1.6, 1, true),
        curve(p2pRaw, '#ff8000', 1.3, 2, false)
    ],
    { reverse: true, xmin: 127, xmax: 135, xticks: ticksG, ymin: 0, ymax: 100 },
    {
        notes: [
            { t: '(g)', x: 133.91, y: 89.7, size: 24 },
            { t: 'P 2p', x: 128.85, y: 90.6, size: 21 },
            { t: 'P-P', x: 132.5, y: 56.4, size: 12, color: PURPLE }
        ],
        arrows: [[130.7, 37.6, 132.12, 50.8]]
    });

makePanel({ L: 283, T: 737, W: 284, H: 235, x1: 316, y1: 745, x2: 553, y2: 935, ytc: 293, xtc: 962 },
    [
        { data: zip(desP, desV), borderColor: '#ff1a1a', backgroundColor: '#ff1a1a', borderWidth: 1,
          pointStyle: 'circle', pointRadius: 2.8, pointBorderWidth: 0, tension: 0, order: 0 },
        { data: zip(adsP, adsV), borderColor: '#111', backgroundColor: '#111', borderWidth: 1,
          pointStyle: 'rect', pointRadius: 3, pointBorderWidth: 0, tension: 0, order: 1 }
    ],
    { xmin: -0.1, xmax: 1.1, xticks: ticksHx, xfmt: v => v.toFixed(1), ymin: -5.5, ymax: 74, yticks: ticksHy,
      tickSize: 10, xtSize: 10, ytSize: 10, xtitle: 'Relative Pressure (P/P\u2080)', ytitle: 'Volume absorbed (cm\u00b3/g)' },
    {
        yTicks: true,
        notes: [{ t: '(h)', x: 0.008, y: 69.5, size: 15 }],
        legend: [
            { x1: 0.008, x2: 0.118, y: 61.3, label: 'Adsorption', color: '#111', shape: 'rect' },
            { x1: 0.008, x2: 0.118, y: 56.6, label: 'Desorption', color: '#ff1a1a', shape: 'circle' }
        ]
    });
</script>
</body>
</html>
